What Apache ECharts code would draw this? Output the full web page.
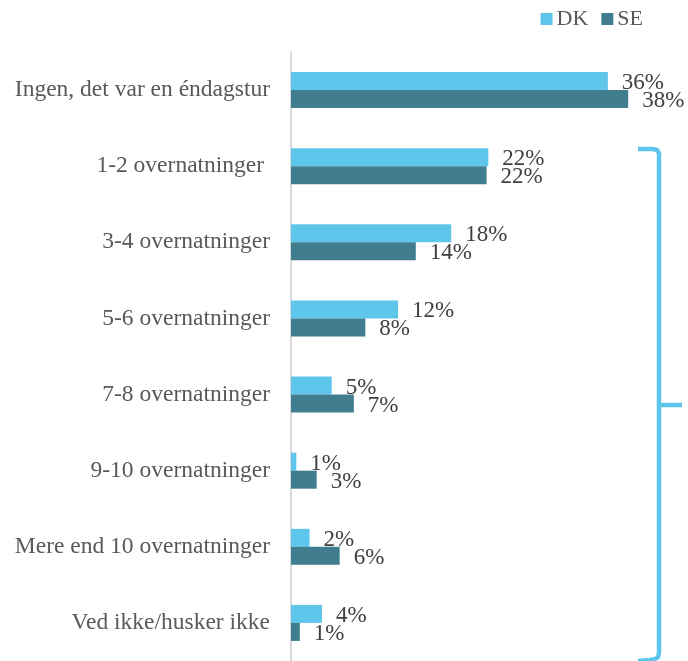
<!DOCTYPE html>
<html>
<head>
<meta charset="utf-8">
<script src="https://cdn.jsdelivr.net/npm/echarts@6/dist/echarts.min.js"></script>
<style>
html,body{margin:0;padding:0;background:#fff;}
#main{width:688px;height:661px;}
</style>
</head>
<body>
<div id="main"></div>
<script>
var categories = [
  'Ingen, det var en éndagstur',
  '1-2 overnatninger ',
  '3-4 overnatninger',
  '5-6 overnatninger',
  '7-8 overnatninger',
  '9-10 overnatninger',
  'Mere end 10 overnatninger',
  'Ved ikke/husker ikke'
];
var seriesNames = ['DK', 'SE'];
var dkValues = [35.8, 22.3, 18.1, 12.1, 4.6, 0.6, 2.1, 3.5];
var seValues = [38.1, 22.1, 14.1, 8.4, 7.1, 2.9, 5.5, 1.0];

var FONT = '"Liberation Serif", "DejaVu Serif", serif';
var chart = echarts.init(document.getElementById('main'));

function labelCfg() {
  return {
    show: true,
    position: 'right',
    distance: 14,
    offset: [0, 2],
    color: '#404040',
    fontFamily: FONT,
    fontSize: 23,
    formatter: function (p) { return Math.round(p.value) + '%'; }
  };
}

var braceStyle = { fill: null, stroke: '#5EC6EA', lineWidth: 4.5 };

chart.setOption({
  animation: false,
  backgroundColor: '#ffffff',
  legend: {
    data: seriesNames,
    top: 3,
    right: 40,
    itemWidth: 12,
    itemHeight: 12,
    itemGap: 13,
    icon: 'rect',
    textStyle: { color: '#595959', fontFamily: FONT, fontSize: 22, padding: [0, 0, 0, -1] }
  },
  grid: { left: 291, right: 43, top: 52, bottom: 0 },
  xAxis: {
    type: 'value', min: 0, max: 40,
    show: false,
    splitLine: { show: false }
  },
  yAxis: {
    type: 'category',
    data: categories,
    inverse: true,
    axisLine: { show: true, lineStyle: { color: '#D9D9D9', width: 2 } },
    axisTick: { show: false },
    axisLabel: { color: '#595959', fontFamily: FONT, fontSize: 23.5, margin: 21 }
  },
  series: [
    { name: 'DK', type: 'bar', data: dkValues, barWidth: 18, barGap: '0%',
      itemStyle: { color: '#5EC6EA' }, label: labelCfg() },
    { name: 'SE', type: 'bar', data: seValues, barWidth: 18, barGap: '0%',
      itemStyle: { color: '#407E8F' }, label: labelCfg() }
  ],
  graphic: [
    { type: 'polyline', silent: true,
      shape: { points: [[638,149],[653,149],[657,150],[659,153],[659,156],[659,653],[658,657],[655,659],[650,660],[638,661]] },
      style: braceStyle },
    { type: 'line', silent: true,
      shape: { x1: 659, y1: 405, x2: 682, y2: 405 },
      style: braceStyle }
  ]
});
</script>
</body>
</html>
